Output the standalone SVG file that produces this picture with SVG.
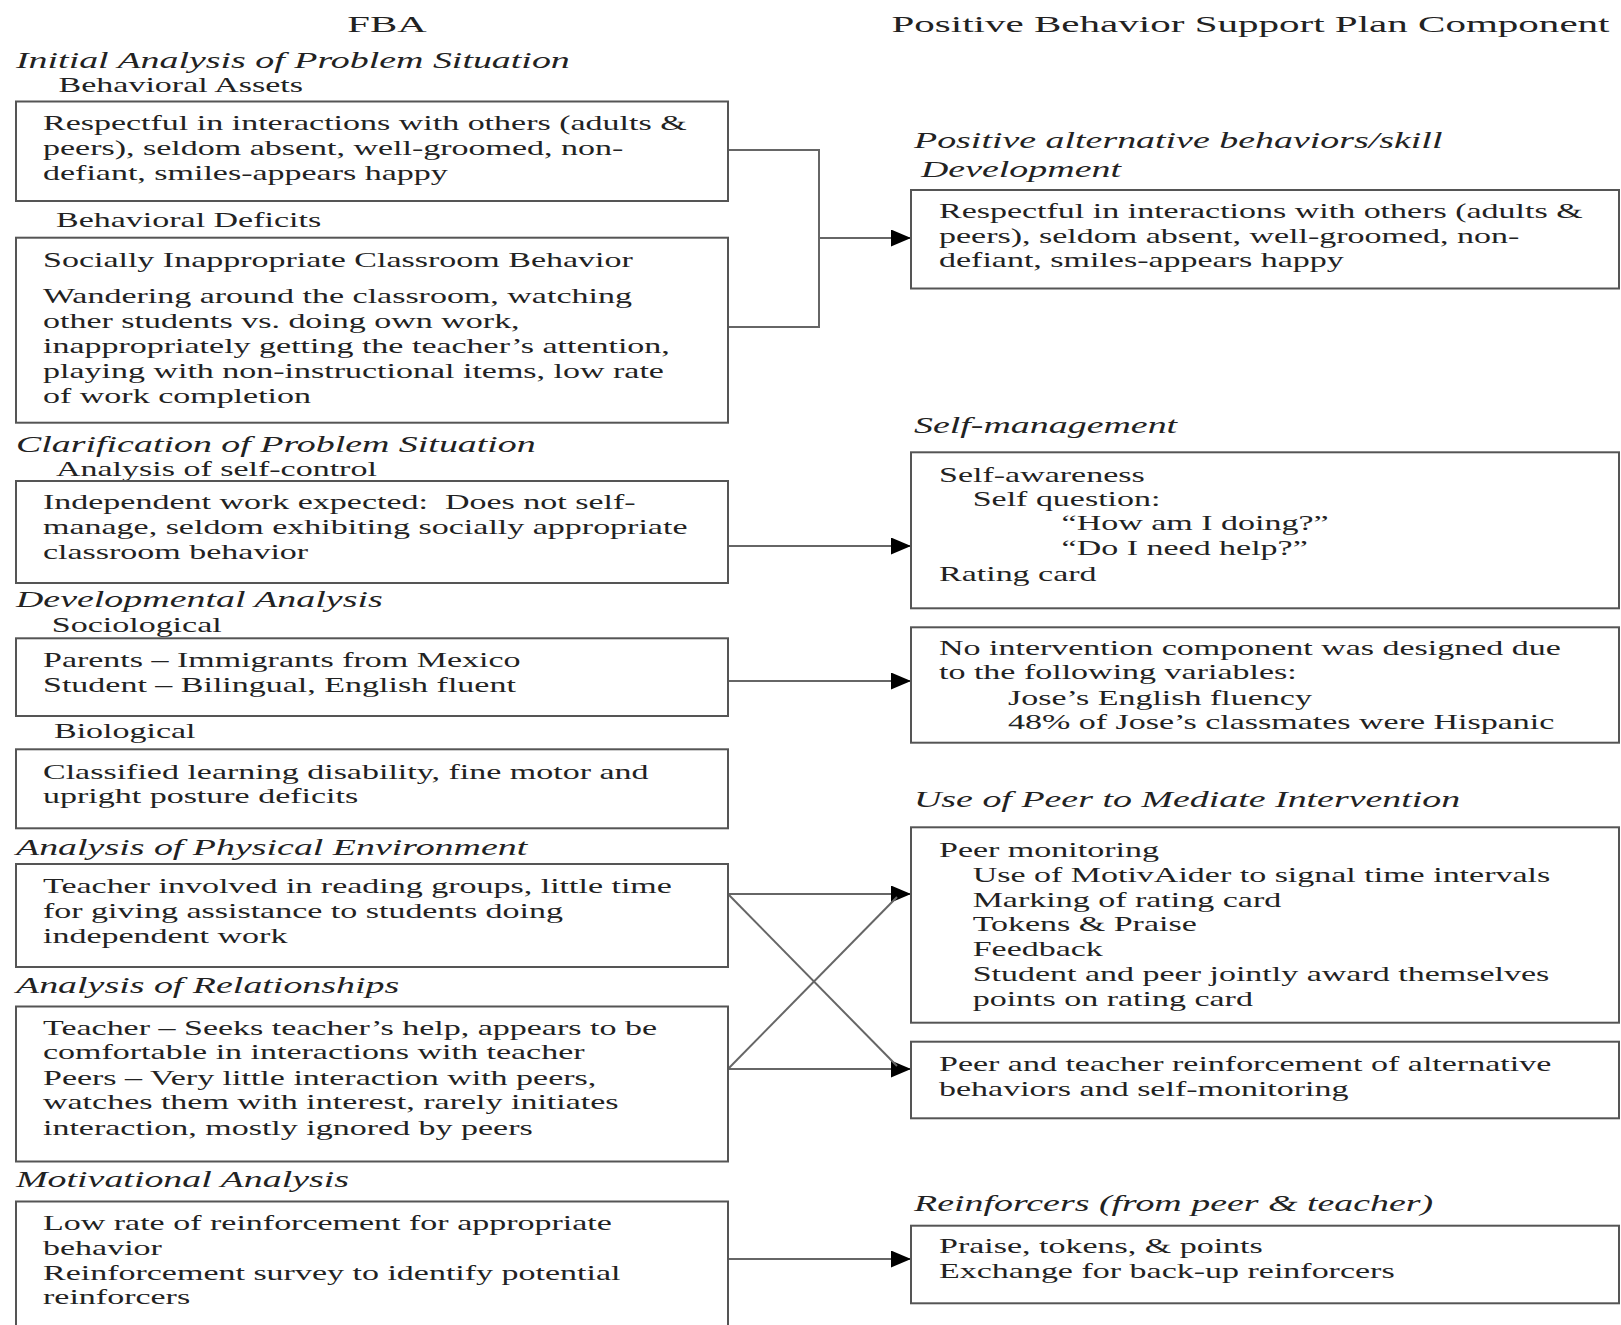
<svg xmlns="http://www.w3.org/2000/svg" width="1621" height="1325" viewBox="0 0 1621 1325">
<style>
text{font-family:"Liberation Serif","Times New Roman",serif;fill:#222;}
.t{font-size:24px;}
.h{font-size:22.3px;font-style:italic;}
.s{font-size:20px;}
.b{font-size:20px;}
.box{fill:#fff;stroke:#555;stroke-width:2;}
.c{fill:none;stroke:#666;stroke-width:2;}
</style>
<defs>
<marker id="arr" markerUnits="userSpaceOnUse" viewBox="0 0 20 17" refX="20" refY="8.5" markerWidth="20" markerHeight="17" orient="auto">
<path d="M0,0 L20,8.5 L0,17 Z" fill="#000"/>
</marker>
</defs>
<rect width="1621" height="1325" fill="#fff"/>

<g id="titles">
<text class="t" text-anchor="middle" transform="translate(387,31.7) scale(1.7,1)">FBA</text>
<text class="t" transform="translate(891.5,32.3) scale(1.71,1)">Positive Behavior Support Plan Component</text>
</g>

<g id="left-headings">
<text class="h" transform="translate(16,68) scale(1.7,1)">Initial Analysis of Problem Situation</text>
<text class="s" transform="translate(58.6,91.7) scale(1.7,1)">Behavioral Assets</text>
<text class="s" transform="translate(56,226.7) scale(1.7,1)">Behavioral Deficits</text>
<text class="h" transform="translate(16,451.7) scale(1.7,1)">Clarification of Problem Situation</text>
<text class="s" transform="translate(56,476) scale(1.7,1)">Analysis of self-control</text>
<text class="h" transform="translate(16,607.3) scale(1.7,1)">Developmental Analysis</text>
<text class="s" transform="translate(51.8,631.7) scale(1.7,1)">Sociological</text>
<text class="s" transform="translate(54,738.3) scale(1.7,1)">Biological</text>
<text class="h" transform="translate(16,855) scale(1.7,1)">Analysis of Physical Environment</text>
<text class="h" transform="translate(16,992.7) scale(1.7,1)">Analysis of Relationships</text>
<text class="h" transform="translate(16,1187.3) scale(1.7,1)">Motivational Analysis</text>
</g>

<g id="right-headings">
<text class="h" transform="translate(914,148.3) scale(1.7,1)">Positive alternative behaviors/skill</text>
<text class="h" transform="translate(921,176.7) scale(1.7,1)">Development</text>
<text class="h" transform="translate(914,433.3) scale(1.7,1)">Self-management</text>
<text class="h" transform="translate(914,806.7) scale(1.7,1)">Use of Peer to Mediate Intervention</text>
<text class="h" transform="translate(914,1211) scale(1.7,1)">Reinforcers (from peer &amp; teacher)</text>
</g>

<g id="connectors">
<path class="c" d="M728,150 H819 V327 H728"/>
<path class="c" d="M819,238 H911" marker-end="url(#arr)"/>
<path class="c" d="M728,546 H911" marker-end="url(#arr)"/>
<path class="c" d="M728,681 H911" marker-end="url(#arr)"/>
<path class="c" d="M728,894 H911" marker-end="url(#arr)"/>
<path class="c" d="M728,1069 H911" marker-end="url(#arr)"/>
<path class="c" d="M728,894 L897,1066"/>
<path class="c" d="M728,1069 L897,897"/>
<path class="c" d="M728,1259 H911" marker-end="url(#arr)"/>
</g>

<g id="assets">
<rect class="box" x="16" y="101.5" width="712" height="99.5"/>
<text class="b" transform="translate(43,0) scale(1.7,1)"><tspan x="0" y="130">Respectful in interactions with others (adults &amp;</tspan><tspan x="0" y="155">peers), seldom absent, well-groomed, non-</tspan><tspan x="0" y="180">defiant, smiles-appears happy</tspan></text>
</g>

<g id="deficits">
<rect class="box" x="16" y="237.7" width="712" height="185"/>
<text class="b" transform="translate(43,0) scale(1.7,1)"><tspan x="0" y="266.7">Socially Inappropriate Classroom Behavior</tspan><tspan x="0" y="303.3">Wandering around the classroom, watching</tspan><tspan x="0" y="328.3">other students vs. doing own work,</tspan><tspan x="0" y="353.3">inappropriately getting the teacher’s attention,</tspan><tspan x="0" y="378.3">playing with non-instructional items, low rate</tspan><tspan x="0" y="403.3">of work completion</tspan></text>
</g>

<g id="self-control">
<rect class="box" x="16" y="481" width="712" height="102"/>
<text class="b" transform="translate(43,0) scale(1.7,1)"><tspan x="0" y="509.3">Independent work expected:&#160; Does not self-</tspan><tspan x="0" y="534.3">manage, seldom exhibiting socially appropriate</tspan><tspan x="0" y="559.3">classroom behavior</tspan></text>
</g>

<g id="sociological">
<rect class="box" x="16" y="638.3" width="712" height="77.7"/>
<text class="b" transform="translate(43,0) scale(1.7,1)"><tspan x="0" y="667.3">Parents – Immigrants from Mexico</tspan><tspan x="0" y="691.7">Student – Bilingual, English fluent</tspan></text>
</g>

<g id="biological">
<rect class="box" x="16" y="749.3" width="712" height="79"/>
<text class="b" transform="translate(43,0) scale(1.7,1)"><tspan x="0" y="779.3">Classified learning disability, fine motor and</tspan><tspan x="0" y="803.3">upright posture deficits</tspan></text>
</g>

<g id="physical">
<rect class="box" x="16" y="864" width="712" height="103"/>
<text class="b" transform="translate(43,0) scale(1.7,1)"><tspan x="0" y="892.7">Teacher involved in reading groups, little time</tspan><tspan x="0" y="917.7">for giving assistance to students doing</tspan><tspan x="0" y="943.3">independent work</tspan></text>
</g>

<g id="relationships">
<rect class="box" x="16" y="1006.5" width="712" height="155"/>
<text class="b" transform="translate(43,0) scale(1.7,1)"><tspan x="0" y="1035">Teacher – Seeks teacher’s help, appears to be</tspan><tspan x="0" y="1059.3">comfortable in interactions with teacher</tspan><tspan x="0" y="1085">Peers – Very little interaction with peers,</tspan><tspan x="0" y="1109.3">watches them with interest, rarely initiates</tspan><tspan x="0" y="1135">interaction, mostly ignored by peers</tspan></text>
</g>

<g id="motivational">
<rect class="box" x="16" y="1201.5" width="712" height="140"/>
<text class="b" transform="translate(43,0) scale(1.7,1)"><tspan x="0" y="1230">Low rate of reinforcement for appropriate</tspan><tspan x="0" y="1255">behavior</tspan><tspan x="0" y="1280">Reinforcement survey to identify potential</tspan><tspan x="0" y="1304">reinforcers</tspan></text>
</g>

<g id="alternative">
<rect class="box" x="911" y="190" width="708" height="98.5"/>
<text class="b" transform="translate(939,0) scale(1.7,1)"><tspan x="0" y="218.3">Respectful in interactions with others (adults &amp;</tspan><tspan x="0" y="243.3">peers), seldom absent, well-groomed, non-</tspan><tspan x="0" y="267.5">defiant, smiles-appears happy</tspan></text>
</g>

<g id="self-management">
<rect class="box" x="911" y="452.3" width="708" height="156"/>
<text class="b" transform="translate(939,0) scale(1.7,1)"><tspan x="0" y="481.7">Self-awareness</tspan><tspan x="19.8" y="506">Self question:</tspan><tspan x="72.1" y="530">“How am I doing?”</tspan><tspan x="72.1" y="555">“Do I need help?”</tspan><tspan x="0" y="580.7">Rating card</tspan></text>
</g>

<g id="no-intervention">
<rect class="box" x="911" y="627.3" width="708" height="115.4"/>
<text class="b" transform="translate(939,0) scale(1.7,1)"><tspan x="0" y="655">No intervention component was designed due</tspan><tspan x="0" y="679.3">to the following variables:</tspan><tspan x="40.6" y="705">Jose’s English fluency</tspan><tspan x="40.6" y="729.3">48% of Jose’s classmates were Hispanic</tspan></text>
</g>

<g id="peer-monitoring">
<rect class="box" x="911" y="827.3" width="708" height="195.4"/>
<text class="b" transform="translate(939,0) scale(1.7,1)"><tspan x="0" y="856.7">Peer monitoring</tspan><tspan x="19.8" y="881.7">Use of MotivAider to signal time intervals</tspan><tspan x="19.8" y="906.7">Marking of rating card</tspan><tspan x="19.8" y="931">Tokens &amp; Praise</tspan><tspan x="19.8" y="956">Feedback</tspan><tspan x="19.8" y="981">Student and peer jointly award themselves</tspan><tspan x="19.8" y="1005.7">points on rating card</tspan></text>
</g>

<g id="reinforcement">
<rect class="box" x="911" y="1041.7" width="708" height="76.6"/>
<text class="b" transform="translate(939,0) scale(1.7,1)"><tspan x="0" y="1070.7">Peer and teacher reinforcement of alternative</tspan><tspan x="0" y="1095.7">behaviors and self-monitoring</tspan></text>
</g>

<g id="reinforcers">
<rect class="box" x="911" y="1225.7" width="708" height="77.6"/>
<text class="b" transform="translate(939,0) scale(1.7,1)"><tspan x="0" y="1253.3">Praise, tokens, &amp; points</tspan><tspan x="0" y="1278.3">Exchange for back-up reinforcers</tspan></text>
</g>
</svg>
